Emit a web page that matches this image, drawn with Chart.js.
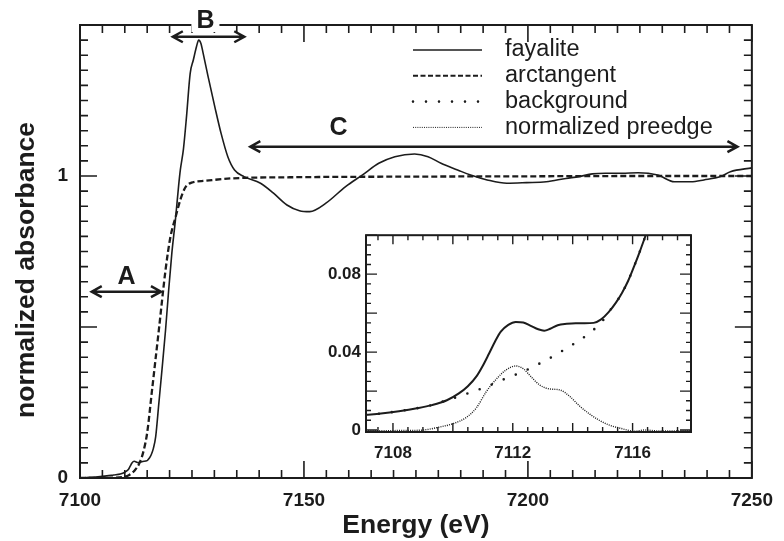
<!DOCTYPE html>
<html lang="en">
<head>
<meta charset="UTF-8">
<title>Fayalite Fe K-edge XANES</title>
<script src="https://cdn.jsdelivr.net/npm/chart.js@4"></script>
<style>
  body { margin: 0; background: #fff; }
  #wrap { position: relative; width: 784px; height: 541px; }
  #main { position: absolute; left: 0; top: 0; }
  #inset { position: absolute; left: 300px; top: 220px; }
</style>
</head>
<body>
<div id="wrap">
  <canvas id="main" width="784" height="541"></canvas>
  <canvas id="inset" width="400" height="260"></canvas>
</div>
<script>
// main spectrum (energy in eV, normalized absorbance)
const fayaliteE = [7100, 7102, 7104, 7106, 7107.5, 7109, 7110, 7110.8, 7111.2, 7111.6, 7112.1, 7113, 7114, 7115, 7115.5, 7115.9,
  7116.4, 7116.9, 7117.6, 7118.3, 7119.1, 7119.8, 7120.5, 7121.3, 7122.0, 7122.4, 7123.1, 7123.8, 7124.6, 7125.3, 7126.0, 7126.5,
  7127.0, 7127.5, 7128.6, 7130.1, 7131.5, 7133.0, 7134.5, 7136.6, 7140.3, 7143.2, 7146.2, 7149.0, 7151.3, 7154.9, 7159.3, 7163.0,
  7166.7, 7170.3, 7174.7, 7177.7, 7180.6, 7184.3, 7187.2, 7190.9, 7195.3, 7199.7, 7204.1, 7208.5, 7211.4, 7214.4, 7217.3, 7221.0,
  7224.6, 7229.0, 7232.7, 7236.4, 7239.3, 7243.0, 7245.2, 7250];
const fayaliteMu = [0, 0.002, 0.004, 0.007, 0.010, 0.013, 0.019, 0.028, 0.039, 0.050, 0.0555, 0.051, 0.0548, 0.0575, 0.066, 0.077,
  0.099, 0.137, 0.247, 0.358, 0.490, 0.623, 0.744, 0.854, 0.965, 1.020, 1.090, 1.200, 1.340, 1.384, 1.428, 1.450,
  1.439, 1.406, 1.329, 1.229, 1.141, 1.064, 1.020, 0.998, 0.976, 0.943, 0.904, 0.885, 0.882, 0.910, 0.965, 1.003,
  1.042, 1.064, 1.073, 1.064, 1.042, 1.020, 1.003, 0.987, 0.976, 0.978, 0.981, 0.992, 0.998, 1.007, 1.009, 1.009,
  1.011, 1.003, 0.981, 0.981, 0.987, 0.998, 1.014, 1.027];

const arctanE = [7100, 7104, 7107, 7109.5, 7111, 7112.2, 7113.3, 7114.2, 7115, 7116, 7117.6, 7119.1, 7120.2, 7121.3, 7122.4,
  7123.5, 7124.9, 7127.9, 7133.7, 7148.4, 7175, 7200, 7225, 7250];
const arctanMu = [0, 0, 0.001, 0.003, 0.01, 0.025, 0.05, 0.09, 0.15, 0.28, 0.49, 0.689, 0.799, 0.862, 0.921,
  0.962, 0.978, 0.984, 0.992, 0.996, 0.998, 0.999, 1.0, 1.0];

// pre-edge inset
const insetFayE = [7107.1, 7107.6, 7108.2, 7108.8, 7109.3, 7109.8, 7110.2, 7110.5, 7110.8, 7111.0, 7111.2, 7111.4, 7111.6,
  7111.85, 7112.1, 7112.35, 7112.6, 7112.85, 7113.05, 7113.25, 7113.5, 7113.8, 7114.1, 7114.4, 7114.7, 7114.95, 7115.2,
  7115.45, 7115.65, 7115.85, 7116.05, 7116.25, 7116.45];
const insetFayMu = [0.0078, 0.0085, 0.0097, 0.0112, 0.0128, 0.0153, 0.0188, 0.0225, 0.0278, 0.033, 0.039, 0.0452, 0.0505,
  0.0540, 0.0555, 0.0552, 0.0535, 0.0517, 0.0510, 0.0520, 0.0538, 0.0545, 0.0548, 0.0548, 0.0550, 0.0568, 0.0605,
  0.0655, 0.0705, 0.0765, 0.0840, 0.0920, 0.1005];

const backgroundE = [7107.1, 7107.6, 7108.2, 7108.8, 7109.3, 7109.8, 7110.23, 7110.66, 7111.07, 7111.48, 7111.9, 7112.32,
  7112.73, 7113.12, 7113.51, 7113.9, 7114.26, 7114.62, 7114.96, 7115.2, 7115.45, 7115.65, 7115.85, 7116.05, 7116.25, 7116.45];
const backgroundMu = [0.0078, 0.0085, 0.0097, 0.0112, 0.0128, 0.0153, 0.0174, 0.0197, 0.0219, 0.0246, 0.0273, 0.0298,
  0.0329, 0.0359, 0.0393, 0.0429, 0.0464, 0.0505, 0.0553, 0.0605, 0.0655, 0.0705, 0.0765, 0.0840, 0.0920, 0.1005];

const preedgeE = [7107.1, 7107.6, 7108.5, 7109.0, 7109.57, 7110.01, 7110.46, 7110.79, 7111.12, 7111.46, 7111.79, 7112.1,
  7112.34, 7112.62, 7112.9, 7113.23, 7113.57, 7113.9, 7114.23, 7114.57, 7114.9, 7115.23, 7115.62, 7116.07, 7116.4,
  7116.9, 7117.57, 7117.95];
const preedgeMu = [-0.0003, -0.0003, -0.0002, 0, 0.0016, 0.0033, 0.0066, 0.0115, 0.0198, 0.0263, 0.031, 0.0329,
  0.0316, 0.0272, 0.0231, 0.0211, 0.0206, 0.0173, 0.0123, 0.0082, 0.0049, 0.0025, 0.0008, -0.0006, 0,
  -0.0005, -0.0005, -0.0004];

const mainXTicks = [7100, 7150, 7200, 7250];
const mainYTicks = [0, 1];
const insetXTicks = [7108, 7112, 7116];
const insetYTicks = [0, 0.04, 0.08];

const seriesNames = ['fayalite', 'arctangent', 'background', 'normalized preedge'];

// A / B / C regions (double arrows)
const regionNames = ['A', 'B', 'C'];
const regionFrom = [7102.4, 7120.5, 7137.8];
const regionTo = [7118.3, 7136.9, 7247.0];
const regionLevel = [0.617, 1.461, 1.097];
const regionLabelE = [7110.4, 7128.0, 7157.7];
const regionLabelLevel = [0.664, 1.513, 1.159];

const INK = '#1c1c1c';
const FONT = "'Liberation Sans', Arial, sans-serif";
Chart.defaults.font.family = FONT;
Chart.defaults.color = INK;

const lineStyles = [
  { width: 1.3, dash: [], cap: 'butt' },
  { width: 2, dash: [5, 2.5], cap: 'butt' },
  { width: 2.6, dash: [0, 13], cap: 'round' },
  { width: 1, dash: [1, 1.2], cap: 'butt' }
];

const pts = (xs, ys) => xs.map((x, i) => ({ x, y: ys[i] }));

function steps(min, max, step) {
  const out = [];
  for (let k = Math.ceil(min / step - 1e-6); k * step <= max + 1e-9; k++) out.push(k * step);
  return out;
}
const isMultiple = (v, step) => Math.abs(v / step - Math.round(v / step)) < 1e-6;

// inward ticks on all four sides + box
const frame = {
  id: 'frame',
  afterDatasetsDraw(chart, args, o) {
    const { ctx, chartArea: a, scales: { x, y } } = chart;
    ctx.save();
    ctx.strokeStyle = INK;
    ctx.lineWidth = o.tickWidth;
    ctx.beginPath();
    for (const v of steps(x.min, x.max, o.x.minor)) {
      const px = x.getPixelForValue(v);
      const len = isMultiple(v, o.x.major) ? o.x.majorLen : o.x.minorLen;
      ctx.moveTo(px, a.bottom); ctx.lineTo(px, a.bottom - len);
      ctx.moveTo(px, a.top); ctx.lineTo(px, a.top + len);
    }
    for (const v of steps(y.min, y.max, o.y.minor)) {
      const py = y.getPixelForValue(v);
      const len = isMultiple(v, o.y.major) ? o.y.majorLen : o.y.minorLen;
      ctx.moveTo(a.left, py); ctx.lineTo(a.left + len, py);
      ctx.moveTo(a.right, py); ctx.lineTo(a.right - len, py);
    }
    ctx.stroke();
    ctx.lineWidth = o.borderWidth;
    ctx.strokeRect(a.left, a.top, a.width, a.height);
    ctx.restore();
  }
};

// region arrows, letters and legend on the main plot
const marks = {
  id: 'marks',
  afterDraw(chart) {
    const { ctx, scales: { x, y } } = chart;
    ctx.save();
    ctx.strokeStyle = INK;
    ctx.lineWidth = 2.5;
    ctx.lineJoin = 'miter';
    regionNames.forEach((name, i) => {
      const x0 = x.getPixelForValue(regionFrom[i]);
      const x1 = x.getPixelForValue(regionTo[i]);
      const py = y.getPixelForValue(regionLevel[i]);
      ctx.beginPath();
      ctx.moveTo(x0 + 1, py); ctx.lineTo(x1 - 1, py);
      ctx.moveTo(x0 + 11, py - 5.5); ctx.lineTo(x0 + 1, py); ctx.lineTo(x0 + 11, py + 5.5);
      ctx.moveTo(x1 - 11, py - 5.5); ctx.lineTo(x1 - 1, py); ctx.lineTo(x1 - 11, py + 5.5);
      ctx.stroke();

      const tx = x.getPixelForValue(regionLabelE[i]);
      const ty = y.getPixelForValue(regionLabelLevel[i]);
      ctx.font = 'bold 25px ' + FONT;
      const w = ctx.measureText(name).width;
      ctx.fillStyle = '#fff';
      ctx.fillRect(tx - w / 2 - 5, ty - 11, w + 10, 22);
      ctx.fillStyle = INK;
      ctx.textAlign = 'center';
      ctx.textBaseline = 'middle';
      ctx.fillText(name, tx, ty);
    });

    ctx.font = '23.5px ' + FONT;
    ctx.textAlign = 'left';
    ctx.textBaseline = 'middle';
    seriesNames.forEach((name, i) => {
      const ly = 50 + i * 25.8;
      const st = lineStyles[i];
      ctx.lineWidth = st.width;
      ctx.lineCap = st.cap;
      ctx.setLineDash(st.dash);
      ctx.beginPath();
      ctx.moveTo(413, ly); ctx.lineTo(482, ly);
      ctx.stroke();
      ctx.setLineDash([]);
      ctx.fillText(name, 505, ly);
    });
    ctx.restore();
  }
};

function lineSet(label, data, st, width) {
  return {
    label, data,
    borderColor: INK,
    borderWidth: width,
    borderDash: st.dash,
    borderCapStyle: st.cap,
    pointRadius: 0,
    fill: false,
    cubicInterpolationMode: 'monotone'
  };
}

const tickFont = size => ({ size, weight: 'bold', lineHeight: 1.2 });

new Chart(document.getElementById('main'), {
  type: 'line',
  data: {
    datasets: [
      lineSet(seriesNames[0], pts(fayaliteE, fayaliteMu), lineStyles[0], 1.6),
      lineSet(seriesNames[1], pts(arctanE, arctanMu), { dash: [6, 3], cap: 'butt' }, 2.3)
    ]
  },
  options: {
    responsive: false,
    animation: false,
    devicePixelRatio: 1,
    layout: { padding: { top: 25, right: 22, left: 0, bottom: 0 } },
    plugins: {
      legend: { display: false },
      tooltip: { enabled: false },
      frame: {
        tickWidth: 1.6, borderWidth: 2,
        x: { minor: 5, major: 50, minorLen: 8, majorLen: 17 },
        y: { minor: 0.05, major: 0.5, minorLen: 8, majorLen: 17 }
      }
    },
    scales: {
      x: {
        type: 'linear', min: 7100, max: 7250,
        grid: { display: false, drawTicks: false },
        border: { display: false },
        afterBuildTicks: s => { s.ticks = mainXTicks.map(v => ({ value: v })); },
        afterFit: s => { s.height = 63; },
        ticks: { padding: 11, autoSkip: false, maxRotation: 0, color: INK, font: tickFont(19), callback: v => String(v) },
        title: { display: true, text: 'Energy (eV)', color: INK,
          font: { size: 26.5, weight: 'bold', lineHeight: 1 }, padding: { top: 0, bottom: 2 } }
      },
      y: {
        type: 'linear', min: 0, max: 1.5,
        grid: { display: false, drawTicks: false },
        border: { display: false },
        afterBuildTicks: s => { s.ticks = mainYTicks.map(v => ({ value: v })); },
        afterFit: s => { s.width = 80; },
        ticks: { padding: 12, color: INK, font: tickFont(19), callback: v => String(v) },
        title: { display: true, text: 'normalized absorbance     ', color: INK,
          font: { size: 26.5, weight: 'bold', lineHeight: 1 }, padding: { top: 13, bottom: 0 } }
      }
    }
  },
  plugins: [frame, marks]
});

new Chart(document.getElementById('inset'), {
  type: 'line',
  data: {
    datasets: [
      lineSet(seriesNames[0], pts(insetFayE, insetFayMu), lineStyles[0], 2),
      lineSet(seriesNames[2], pts(backgroundE, backgroundMu), lineStyles[2], 2.6),
      lineSet(seriesNames[3], pts(preedgeE, preedgeMu), { dash: [1, 1.2], cap: 'butt' }, 1.4)
    ]
  },
  options: {
    responsive: false,
    animation: false,
    devicePixelRatio: 1,
    layout: { padding: { top: 8, right: 9, left: 0, bottom: 0 } },
    plugins: {
      legend: { display: false },
      tooltip: { enabled: false },
      frame: {
        tickWidth: 1.4, borderWidth: 2,
        x: { minor: 0.5, major: 2, minorLen: 5, majorLen: 9 },
        y: { minor: 0.005, major: 0.02, minorLen: 5, majorLen: 11 }
      }
    },
    scales: {
      x: {
        type: 'linear', min: 7107.1, max: 7117.95,
        grid: { display: false, drawTicks: false },
        border: { display: false },
        afterBuildTicks: s => { s.ticks = insetXTicks.map(v => ({ value: v })); },
        afterFit: s => { s.height = 48; },
        ticks: { padding: 11, autoSkip: false, maxRotation: 0, color: INK, font: tickFont(17), callback: v => String(v) }
      },
      y: {
        type: 'linear', min: -0.001, max: 0.1,
        grid: { display: false, drawTicks: false },
        border: { display: false },
        afterBuildTicks: s => { s.ticks = insetYTicks.map(v => ({ value: v })); },
        afterFit: s => { s.width = 66; },
        ticks: { padding: 5, color: INK, font: tickFont(17), callback: v => String(v) }
      }
    }
  },
  plugins: [frame]
});
</script>
</body>
</html>
